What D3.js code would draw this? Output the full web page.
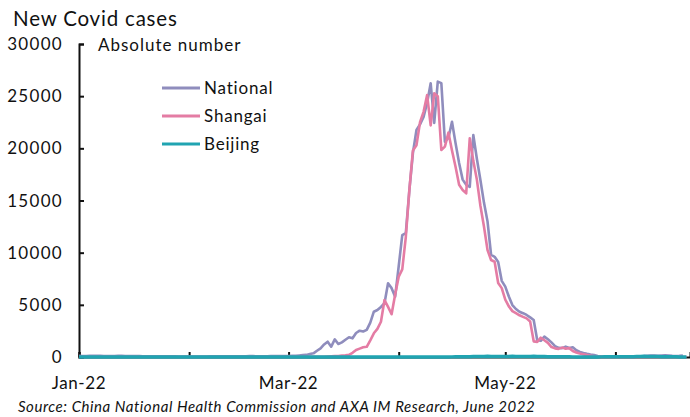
<!DOCTYPE html>
<html>
<head>
<meta charset="utf-8">
<script src="https://cdn.jsdelivr.net/npm/d3@7"></script>
<style>
  body { margin: 0; background: #fff; }
  svg text { font-family: Lato, "Open Sans", sans-serif; fill: #111; }
</style>
</head>
<body>
<div id="chart"></div>
<script>
// daily new cases, one value per day starting 1 Jan 2022
const startDate = "2022-01-01";

const national = [
  110, 100, 95, 105, 115, 120, 110, 100, 95, 90,
  100, 110, 105, 95, 90, 85, 80, 80, 75, 70,
  65, 60, 60, 65, 70, 70, 65, 60, 55, 50,
  50, 45, 45, 40, 45, 50, 55, 60, 60, 65,
  70, 70, 65, 60, 60, 65, 70, 75, 80, 80,
  75, 70, 70, 75, 80, 90, 95, 100, 100,
  100, 110, 120, 150, 180, 200, 280, 350, 600, 830,
  1200, 1470, 990, 1690, 1250, 1400, 1650, 1890, 1790, 2300,
  2520, 2450, 2600, 3300, 4340, 4500, 4800, 5150, 7060, 6600,
  5780, 8700, 11690, 11880, 16000, 19550, 21760, 22300, 23000, 24350,
  26230, 22430, 26390, 26250, 20640, 21000, 22550, 20500, 18600, 17000,
  16500, 16300, 21280, 19000, 16970, 14800, 13000, 9800, 9600, 9100,
  7300, 6740, 5800, 4980, 4600, 4340, 4200, 4030, 3800, 3550,
  1600, 1550, 1950, 1700, 1400, 1050, 880, 850, 990, 860,
  930, 650, 480, 380, 300, 230, 190, 90, 60, 55,
  50, 45, 50, 60, 55, 50, 45, 40, 50, 60,
  80, 120, 150, 130, 110, 140, 160, 150, 120, 100,
  110, 130
];

const shanghai = [
  2, 1, 0, 1, 2, 3, 1, 0, 0, 1,
  2, 4, 3, 2, 1, 5, 8, 6, 4, 3,
  2, 3, 2, 1, 3, 2, 1, 0, 2, 3,
  1, 0, 2, 1, 0, 1, 2, 1, 0, 1,
  2, 1, 0, 1, 2, 3, 2, 1, 0, 1,
  2, 1, 2, 3, 2, 1, 2, 3, 4,
  5, 6, 8, 10, 12, 15, 18, 20, 22, 25,
  30, 50, 65, 80, 100, 130, 160, 200, 400, 670,
  800, 930, 980, 1600, 2270, 2700, 3380, 5460, 4800, 4100,
  6000, 7700, 8400, 11500, 16000, 19800, 20300, 22500, 23500, 25100,
  22200, 25270, 25000, 19840, 20160, 21500, 19800, 18240, 16500, 16000,
  15690, 20960, 18800, 17000, 14500, 12500, 10260, 9300, 9130, 7100,
  6600, 5500, 4850, 4400, 4200, 4000, 3850, 3700, 3400, 1500,
  1450, 1850, 1600, 1350, 950, 830, 780, 900, 800, 850,
  580, 430, 330, 250, 180, 120, 50, 20, 15, 12,
  10, 8, 6, 5, 4, 4, 3, 3, 5, 6,
  8, 10, 8, 6, 5, 4, 3, 2, 2, 3,
  4, 2, 1
];

const beijing = [
  2, 1, 0, 0, 1, 0, 0, 1, 0, 0,
  0, 1, 0, 0, 1, 2, 3, 2, 1, 1,
  2, 3, 5, 6, 5, 4, 3, 2, 1, 1,
  0, 0, 1, 0, 0, 0, 0, 1, 0, 0,
  0, 0, 0, 0, 0, 0, 0, 0, 0, 0,
  0, 0, 0, 0, 0, 0, 0, 0, 0,
  0, 1, 0, 0, 1, 2, 3, 2, 3, 4,
  5, 8, 6, 4, 3, 2, 3, 2, 1, 2,
  3, 2, 1, 1, 2, 3, 2, 1, 2, 3,
  2, 3, 4, 5, 6, 4, 3, 2, 3, 4,
  5, 4, 3, 6, 8, 10, 12, 15, 20, 25,
  30, 35, 40, 45, 50, 55, 60, 55, 50, 45,
  40, 50, 55, 60, 50, 45, 40, 50, 55, 60,
  50, 45, 40, 35, 30, 25, 20, 18, 16, 15,
  12, 10, 8, 6, 5, 6, 8, 10, 12, 15,
  20, 25, 30, 28, 25, 20, 25, 30, 40, 50,
  60, 55, 50, 45, 40, 35, 30, 25, 20, 15,
  10, 8, 6
];

const seriesNames = ["National", "Shangai", "Beijing"];
const seriesColors = ["#8f8dbd", "#e47ca4", "#20a4b1"];
const yTicks = [0, 5000, 10000, 15000, 20000, 25000, 30000];
const xLabelMonths = ["2022-01-01", "2022-03-01", "2022-05-01"];

const width = 690, height = 417;
const parse = d3.timeParse("%Y-%m-%d");
const t0 = parse(startDate);

const svg = d3.select("#chart").append("svg")
  .attr("width", width)
  .attr("height", height);

const x = d3.scaleTime()
  .domain([t0, d3.timeDay.offset(t0, 172)])
  .range([79, 690]);

const y = d3.scaleLinear()
  .domain([0, 30000])
  .range([357, 44]);

// title + unit
svg.append("text")
  .attr("x", 13).attr("y", 26)
  .style("font-size", "20.5px")
  .style("letter-spacing", "0.8px")
  .text("New Covid cases");

svg.append("text")
  .attr("x", 98).attr("y", 51)
  .style("font-size", "17px")
  .style("letter-spacing", "1px")
  .text("Absolute number");

// y axis, ticks pointing into the plot
const yAxis = svg.append("g")
  .attr("transform", "translate(79,0)")
  .call(d3.axisRight(y).tickValues(yTicks).tickSize(5).tickFormat(""));
yAxis.select(".domain").attr("stroke", "#111").attr("stroke-width", 2);
yAxis.selectAll(".tick line").attr("stroke", "#111").attr("stroke-width", 2);

svg.append("g").selectAll("text")
  .data(yTicks)
  .join("text")
  .attr("x", 63)
  .attr("y", d => y(d) + 6)
  .attr("text-anchor", "end")
  .style("font-size", "17px")
  .style("letter-spacing", "1.3px")
  .text(d => d);

// x axis, monthly ticks pointing up
const xAxis = svg.append("g")
  .attr("transform", "translate(0,357)")
  .call(d3.axisTop(x).ticks(d3.timeMonth.every(1)).tickSize(5).tickFormat(""));
xAxis.select(".domain").attr("stroke", "#111").attr("stroke-width", 2);
xAxis.selectAll(".tick line").attr("stroke", "#111").attr("stroke-width", 2);

svg.append("g").selectAll("text")
  .data(xLabelMonths.map(parse))
  .join("text")
  .attr("x", d => x(d))
  .attr("y", 389)
  .attr("text-anchor", "middle")
  .style("font-size", "17px")
  .style("letter-spacing", "0.6px")
  .text(d3.timeFormat("%b-%y"));

// lines
const allSeries = [national, shanghai, beijing];
const line = d3.line()
  .x((d, i) => x(d3.timeDay.offset(t0, i)))
  .y(d => y(d));

svg.append("g").selectAll("path")
  .data(allSeries)
  .join("path")
  .attr("d", d => line(d))
  .attr("fill", "none")
  .attr("stroke", (d, i) => seriesColors[i])
  .attr("stroke-width", (d, i) => i === 2 ? 3.5 : 2.6)
  .attr("stroke-linejoin", "round");

// legend
const legend = svg.append("g").selectAll("g")
  .data(seriesNames)
  .join("g")
  .attr("transform", (d, i) => `translate(162,${88 + i * 28})`);

legend.append("line")
  .attr("x1", 0).attr("x2", 38)
  .attr("stroke", (d, i) => seriesColors[i])
  .attr("stroke-width", 3);

legend.append("text")
  .attr("x", 42).attr("y", 6)
  .style("font-size", "17px")
  .style("letter-spacing", "0.8px")
  .text(d => d);

// source
svg.append("text")
  .attr("x", 18).attr("y", 412)
  .style("font-size", "15px")
  .style("font-style", "italic")
  .style("letter-spacing", "0.55px")
  .text("Source: China National Health Commission and AXA IM Research, June 2022");
</script>
</body>
</html>
